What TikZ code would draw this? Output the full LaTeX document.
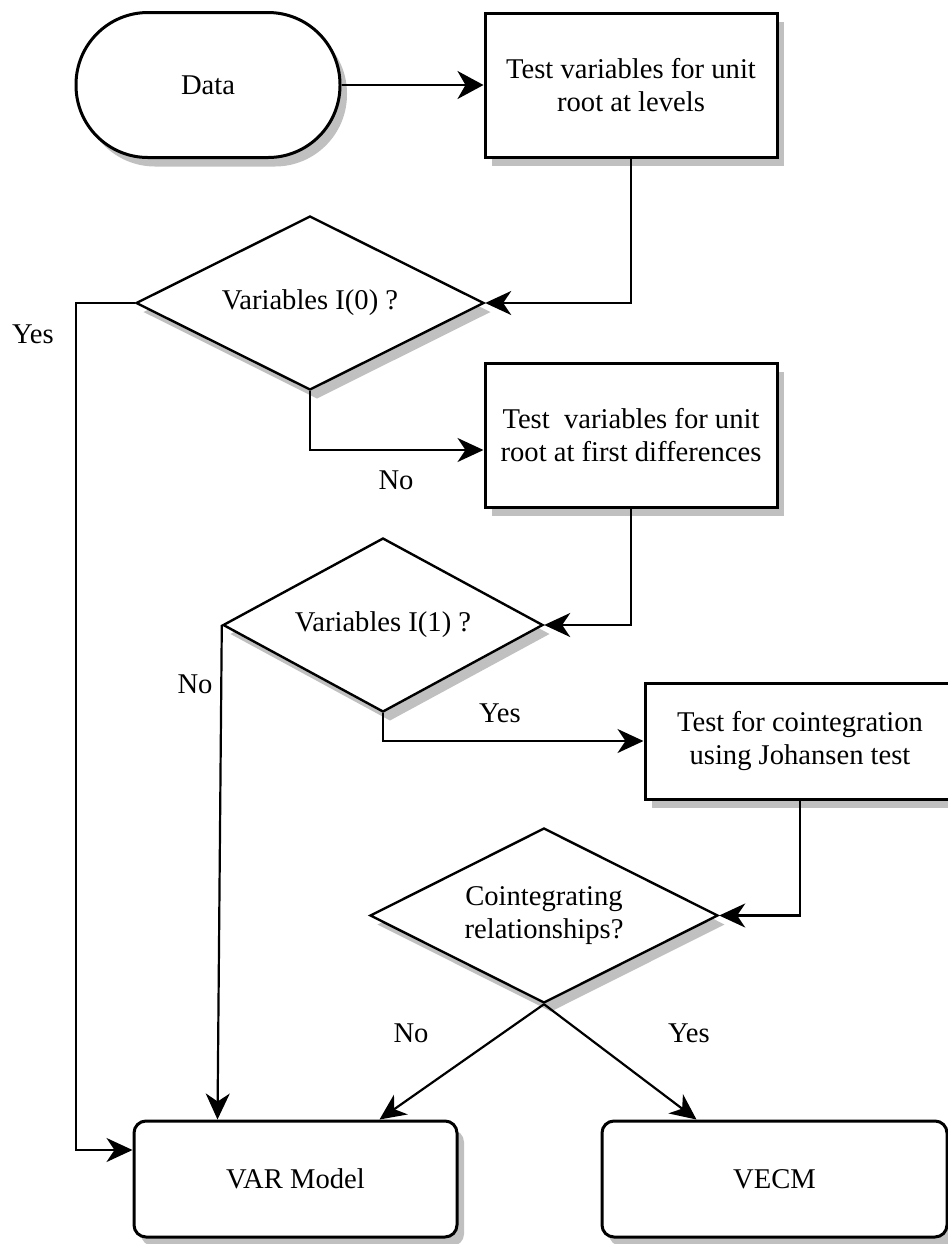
\documentclass[tikz,border=0pt]{standalone}
\usepackage{fontspec}
\setmainfont{Liberation Serif}
\usetikzlibrary{shapes.geometric, arrows.meta, shadows}
\definecolor{shade}{HTML}{C0C0C0}

\begin{document}
\begin{tikzpicture}[
    x=0.5pt, y=-0.5pt,
    every node/.style={font=\fontsize{14.3}{16.5}\selectfont},
    shadowed/.style={drop shadow={shadow xshift=3.5pt, shadow yshift=-4.5pt,
                     fill=shade, opacity=1}},
    box/.style={draw, line width=1.5pt, fill=white, align=center, inner sep=0pt, shadowed},
    terminal/.style={box, rounded corners=36pt},
    result/.style={box, rounded corners=6pt},
    decision/.style={draw, diamond, aspect=2, line width=1.2pt, fill=white, align=center,
                     inner sep=0pt, shadowed},
    arrow/.style={-{Stealth[length=13pt, width=12pt, inset=4pt]}, line width=1.1pt},
    answer/.style={inner sep=1pt}
  ]
    \useasboundingbox (0,0) rectangle (948,1244);

    \node[terminal, minimum width=132pt, minimum height=72.5pt] (data) at (208,85) {Data};
    \node[box, minimum width=146pt, minimum height=72pt] (levels) at (631,85)
      {Test variables for unit\\root at levels};

    \node[decision, minimum width=174pt, minimum height=87pt] (izero) at (310,303)
      {Variables I(0) ?};
    \node[box, minimum width=146pt, minimum height=72pt] (diffs) at (631,435)
      {Test~ variables for unit\\root at first differences};

    \node[decision, minimum width=160pt, minimum height=87pt] (ione) at (383,625)
      {Variables I(1) ?};
    \node[box, minimum width=155pt, minimum height=58pt] (johansen) at (800,741)
      {Test for cointegration\\using Johansen test};

    \node[decision, minimum width=174pt, minimum height=87.5pt] (coint) at (544,915.5)
      {Cointegrating\\relationships?};

    \node[result, minimum width=161.5pt, minimum height=58pt] (var) at (295.5,1179) {VAR Model};
    \node[result, minimum width=172.5pt, minimum height=58pt] (vecm) at (774.5,1179) {VECM};

    \draw[arrow, -{Stealth[length=13pt, width=14pt, inset=4pt]}] (data) -- (levels);
    \draw[arrow] (levels.south) |- (izero.east);
    \draw[arrow] (izero.west) -- ++(-59,0) |- ([yshift=14.5pt]var.west);
    \draw[arrow] (izero.south) |- ([yshift=-7.5pt]diffs.west);
    \draw[arrow] (diffs.south) |- (ione.east);
    \draw[arrow] (ione.west) -- ([xshift=-39pt]var.north);
    \draw[arrow] (ione.south) |- (johansen.west);
    \draw[arrow] (johansen.south) |- (coint.east);
    \draw[arrow] (coint.south) -- ([xshift=42pt]var.north);
    \draw[arrow] (coint.south) -- ([xshift=-39pt]vecm.north);

    % branch answers
    \foreach \x/\y/\txt in {33/334/Yes, 396/480/No, 195/684/No,
                            500/713/Yes, 411/1033/No, 689/1033/Yes} {
      \node[answer] (ans\x) at (\x,\y) {\txt};
    }
  \end{tikzpicture}
\end{document}
